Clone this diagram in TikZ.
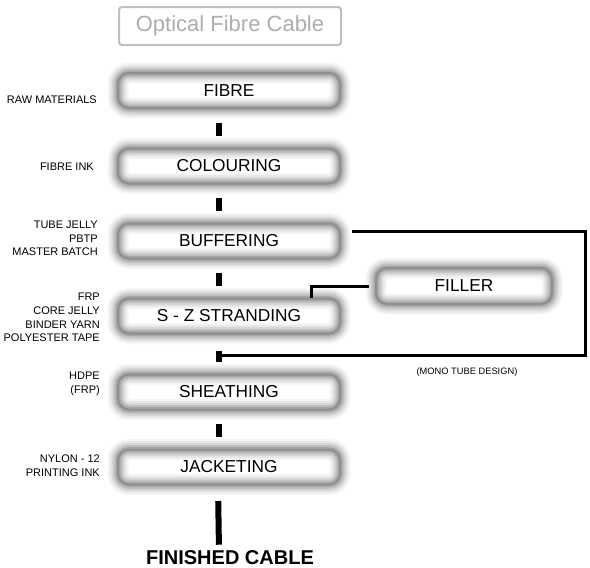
\documentclass[tikz,border=0pt]{standalone}
\usepackage{fontspec}
\setmainfont{Liberation Sans}
\begin{document}
\begin{tikzpicture}[x=1pt,y=-1pt,
  glowbox/.style={rounded corners=11pt, minimum width=222pt, minimum height=35pt, inner sep=0pt,
    font=\fontsize{17.3}{19}\selectfont,
    preaction={fill=white},
    preaction={draw=black!4, line width=21pt},
    preaction={draw=black!9, line width=17pt},
    preaction={draw=black!16, line width=13pt},
    preaction={draw=black!25, line width=9pt},
    preaction={draw=black!35, line width=5pt},
    draw=black!44, line width=2pt},
  titlebox/.style={rounded corners=3pt, draw=black!25, line width=2pt, minimum width=222pt,
    minimum height=38pt, inner sep=0pt, text=black!32, font=\fontsize{22}{24}\selectfont},
  lab/.style={anchor=east, align=right, inner sep=0pt, font=\fontsize{11}{13.7}\selectfont},
  bar/.style={line width=6pt},
  link/.style={line width=3pt}]
\useasboundingbox (0,0) rectangle (590,568);

\node[titlebox] (title) at (230,26) {Optical Fibre Cable};

\node[glowbox] (fibre) at (229,90.5) {FIBRE};
\node[glowbox] (colour) at (229,166) {COLOURING};
\node[glowbox] (buff) at (229,241) {BUFFERING};
\node[glowbox] (sz) at (229,316) {S - Z STRANDING};
\node[glowbox] (sheath) at (229,392) {SHEATHING};
\node[glowbox] (jacket) at (229,467) {JACKETING};
\node[glowbox, minimum width=176pt, minimum height=36pt] (filler) at (464,286) {FILLER};

\node[lab] (l1) at (97,100) {RAW MATERIALS};
\node[lab] (l2) at (94,167) {FIBRE INK};
\node[lab] (l3) at (98,238.5) {TUBE JELLY\\PBTP\\MASTER BATCH};
\node[lab] (l4) at (100,317.5) {FRP\\CORE JELLY\\BINDER YARN\\POLYESTER TAPE};
\node[lab] (l5) at (100,384) {HDPE\\(FRP)};
\node[lab] (l6) at (100,466) {NYLON - 12\\PRINTING INK};

\node[inner sep=0pt, font=\fontsize{9.3}{11}\selectfont] (mono) at (467,372) {(MONO TUBE DESIGN)};
\node[inner sep=0pt, font=\bfseries\fontsize{20}{22}\selectfont] (fin) at (230,558) {FINISHED CABLE};

\draw[bar, shorten <=13.5pt, shorten >=11.5pt] ([xshift=-10pt]fibre.south) -- ([xshift=-10pt]colour.north);
\draw[bar, shorten <=13.5pt, shorten >=11.5pt] ([xshift=-10pt]colour.south) -- ([xshift=-10pt]buff.north);
\draw[bar, shorten <=13.5pt, shorten >=11.5pt] ([xshift=-10pt]buff.south) -- ([xshift=-10pt]sz.north);
\draw[bar, shorten <=16pt, shorten >=12pt] ([xshift=-10pt]sz.south) -- ([xshift=-10pt]sheath.north);
\draw[bar, shorten <=13.5pt, shorten >=11.5pt] ([xshift=-10pt]sheath.south) -- ([xshift=-10pt]jacket.north);
\draw[bar, shorten <=15.5pt, shorten >=6pt] ([xshift=-11pt]jacket.south) -- ([xshift=-11pt]fin.north);

\coordinate (loopstart) at (352,231);
\coordinate (join) at (217,355);
\draw[link] (loopstart) -- (585,231) -- (585,355) -- (join);
\draw[link, shorten <=6pt] (filler.west) -| ([xshift=82pt]sz.north);
\end{tikzpicture}
\end{document}
